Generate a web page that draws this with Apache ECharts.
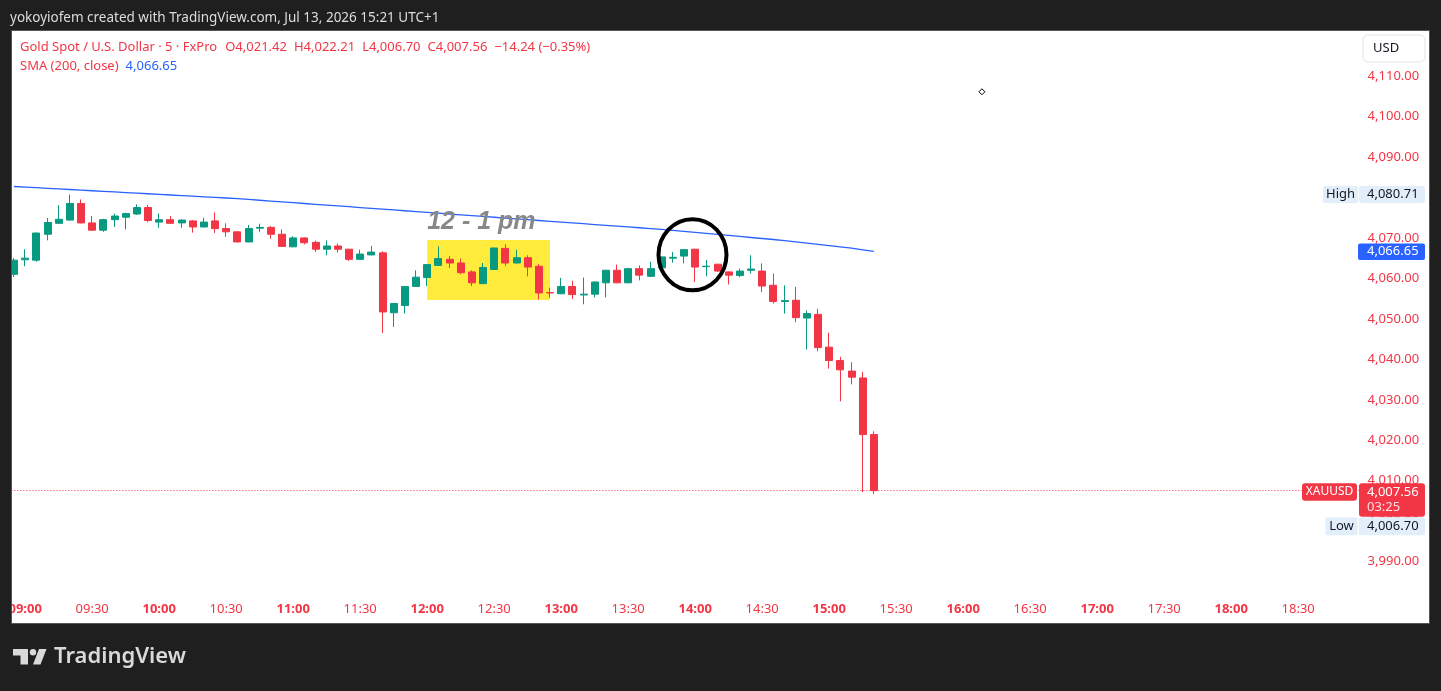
<!DOCTYPE html>
<html><head><meta charset="utf-8">
<script src="https://cdn.jsdelivr.net/npm/echarts@6/dist/echarts.min.js"></script>
<style>html,body{margin:0;padding:0;background:#1f1f1f;}#c{width:1441px;height:691px;}</style>
</head><body><div id="c"></div>
<script>
// ---- data (5-minute candles, XAUUSD, 08:55 .. 15:20) ----
const opens = [4061.0,4064.6,4064.5,4070.9,4073.6,4074.4,4078.5,4073.7,4071.9,4074.5,
4075.1,4075.9,4077.5,4073.9,4074.5,4073.7,4074.2,4072.7,4074.2,4072.3,
4071.5,4069.0,4072.4,4072.6,4070.9,4067.8,4070.0,4068.9,4067.2,4068.0,
4067.2,4064.7,4065.8,4066.3,4051.5,4053.3,4058.0,4060.2,4063.2,4064.7,
4063.8,4061.6,4058.7,4062.2,4067.4,4063.8,4065.1,4063.0,4056.5,4056.2,
4058.0,4055.9,4056.1,4058.9,4062.0,4058.9,4062.4,4060.5,4062.6,4065.0,
4065.5,4067.2,4062.9,4063.5,4061.6,4060.7,4062.0,4061.8,4058.3,4054.3,
4054.6,4050.2,4051.1,4043.0,4039.7,4037.1,4035.4,4021.42];
const closes = [4064.5,4065.0,4071.2,4073.8,4074.6,4078.5,4073.7,4071.9,4074.5,4075.4,
4076.0,4077.5,4074.3,4074.5,4073.6,4074.4,4072.7,4073.9,4072.3,4071.5,
4069.0,4072.3,4072.6,4070.9,4067.9,4070.0,4068.8,4067.2,4068.0,4067.2,
4064.7,4066.0,4066.5,4051.7,4053.8,4058.0,4060.3,4063.4,4064.9,4063.8,
4061.4,4058.9,4062.7,4067.5,4063.8,4065.1,4062.8,4056.4,4056.4,4058.0,
4056.0,4056.1,4059.1,4062.0,4058.9,4062.4,4060.8,4062.4,4065.3,4065.2,
4067.1,4062.8,4063.0,4061.8,4060.8,4061.8,4062.3,4058.1,4054.3,4054.5,
4050.3,4051.3,4042.9,4039.7,4037.4,4035.6,4021.4,4007.56];
const lows = [4060.3,4063.0,4064.1,4069.4,4073.5,4074.3,4073.6,4071.8,4071.5,4072.7,
4072.1,4075.7,4073.9,4072.5,4073.4,4072.5,4071.3,4072.6,4071.2,4070.3,
4068.9,4068.9,4071.5,4069.8,4067.8,4067.7,4068.4,4066.5,4065.7,4066.4,
4064.3,4064.6,4065.7,4046.5,4048.0,4051.3,4057.9,4058.1,4063.1,4062.6,
4061.0,4058.1,4058.6,4062.1,4063.1,4063.7,4060.5,4054.8,4055.2,4056.1,
4054.9,4053.6,4055.3,4055.3,4058.8,4058.8,4059.5,4060.4,4062.5,4063.9,
4063.7,4059.1,4060.5,4061.6,4058.5,4060.3,4061.2,4056.6,4053.8,4051.3,
4049.2,4042.4,4042.0,4037.7,4029.6,4033.8,4007.2,4006.70];
const highs = [4065.0,4067.2,4071.3,4074.9,4078.1,4080.71,4079.5,4075.4,4074.7,4076.0,
4076.2,4078.3,4078.1,4076.0,4075.4,4074.6,4074.4,4075.0,4076.3,4073.6,
4071.6,4073.2,4073.5,4072.9,4072.1,4070.4,4070.1,4069.3,4069.4,4068.6,
4067.3,4067.1,4068.0,4066.7,4053.9,4058.1,4062.0,4063.5,4067.9,4065.5,
4064.9,4062.0,4063.8,4067.6,4068.4,4067.1,4065.7,4063.5,4057.7,4060.1,
4059.4,4060.2,4059.2,4062.1,4063.4,4062.6,4063.2,4064.1,4065.4,4066.5,
4067.2,4067.3,4064.5,4063.6,4061.7,4062.4,4065.7,4063.7,4061.2,4058.3,
4057.9,4052.1,4052.5,4046.6,4040.6,4039.3,4036.9,4022.21];
const sma200 = [4082.70,4082.55,4082.40,4082.25,4082.10,4081.95,4081.80,4081.65,4081.50,4081.35,
4081.20,4081.05,4080.90,4080.75,4080.60,4080.45,4080.30,4080.15,4080.00,4079.85,
4079.70,4079.50,4079.30,4079.10,4078.90,4078.70,4078.50,4078.30,4078.10,4077.90,
4077.70,4077.50,4077.30,4077.10,4076.90,4076.70,4076.50,4076.30,4076.10,4075.90,
4075.70,4075.50,4075.30,4075.10,4074.90,4074.70,4074.50,4074.30,4074.10,4073.90,
4073.70,4073.50,4073.30,4073.10,4072.90,4072.70,4072.50,4072.30,4072.10,4071.85,
4071.60,4071.35,4071.10,4070.85,4070.60,4070.35,4070.10,4069.85,4069.60,4069.30,
4069.00,4068.70,4068.40,4068.10,4067.80,4067.45,4067.05,4066.65];
const lastPrice = 4007.56, dayHigh = 4080.71, dayLow = 4006.70, smaLast = 4066.65;
const highlightTop = 4069.45, highlightBottom = 4054.65;
const legendParts = ['Gold Spot / U.S. Dollar \u00b7 5 \u00b7 FxPro', 'O4,021.42', 'H4,022.21', 'L4,006.70', 'C4,007.56', '\u221214.24 (\u22120.35%)'];

// time categories 08:55 .. 18:55 every 5 minutes
const categories = [];
for (let m = 8*60+55; m <= 18*60+55; m += 5) {
  categories.push(String(Math.floor(m/60)).padStart(2,'0') + ':' + String(m%60).padStart(2,'0'));
}

const RED = '#f23645', GREEN = '#089981', BLUE = '#2962ff', F = '"Noto Sans", sans-serif';
const fmt = v => v.toLocaleString('en-US', {minimumFractionDigits:2, maximumFractionDigits:2});

const chart = echarts.init(document.getElementById('c'), null, {width:1441, height:691});
chart.setOption({
  animation: false,
  backgroundColor: '#1f1f1f',
  grid: {left: 8.42, top: 35.5, width: 121*11.1667, height: 566.7, containLabel: false},
  xAxis: {
    type: 'category', data: categories, boundaryGap: true,
    axisLine: {show: false}, axisTick: {show: false}, splitLine: {show: false},
    axisLabel: {
      interval: (i, v) => v.endsWith(':00') || v.endsWith(':30'),
      formatter: v => v.endsWith(':00') ? '{b|' + v + '}' : v,
      color: RED, fontSize: 13, fontFamily: F, margin: 7, verticalAlign: 'middle',
      rich: {b: {fontWeight: 'bold', color: RED, fontSize: 13, fontFamily: F}}
    }
  },
  yAxis: {
    type: 'value', position: 'right', min: 3980, max: 4120, interval: 10, scale: true,
    axisLine: {show: false}, axisTick: {show: false}, splitLine: {show: false},
    axisLabel: {color: RED, fontSize: 13, fontFamily: F, margin: 8, formatter: v => fmt(v),
      showMinLabel: false, showMaxLabel: false}
  },
  series: [
    {
      type: 'candlestick', barWidth: 7.5,
      data: opens.map((o, i) => [o, closes[i], lows[i], highs[i]]),
      itemStyle: {color: GREEN, color0: RED, borderColor: GREEN, borderColor0: RED, borderWidth: 1},
      markArea: {silent: true, itemStyle: {color: '#ffeb3b', opacity: 1}, label: {show: false},
        data: [[{xAxis: '12:00', yAxis: highlightTop}, {xAxis: '12:55', yAxis: highlightBottom}]]},
      markLine: {silent: true, symbol: ['none','none'], label: {show: false},
        lineStyle: {color: RED, type: [1, 2], width: 1}, data: [{yAxis: lastPrice}]}
    },
    {
      type: 'line', data: sma200, symbol: 'none', z: 3,
      lineStyle: {color: BLUE, width: 1.3}
    }
  ]
});

const xOf = i => chart.convertToPixel({xAxisIndex: 0}, i);
const yOf = v => chart.convertToPixel({yAxisIndex: 0}, v);

function txt(x, y, t, size, color, o = {}) {
  return {type: 'text', x, y, z: o.z || 60, silent: true,
    style: {text: t, fill: color, fontSize: size, fontFamily: o.family || F, fontWeight: o.w || 'normal',
      fontStyle: o.st || 'normal', align: o.align || 'left', textAlign: o.align || 'left',
      verticalAlign: 'middle', textVerticalAlign: 'middle'}};
}
function box(x, y, w, h, fill, o = {}) {
  return {type: 'rect', z: o.z || 55, silent: true, shape: {x, y, width: w, height: h, r: o.r == null ? 3 : o.r},
    style: {fill, stroke: o.stroke || null, lineWidth: o.lw || 0}};
}

// measure legend parts to lay them out in sequence
const mctx = document.createElement('canvas').getContext('2d');
const LEG = 13;
mctx.font = LEG + 'px "Noto Sans"';
const legendEls = [];
let lx = 20;
legendParts.forEach((p, i) => {
  legendEls.push(txt(lx, 47.5, p, LEG, RED));
  lx += mctx.measureText(p).width + (i === 0 ? 8 : 7);
});

const yH = yOf(dayHigh), yS = yOf(smaLast), yL = yOf(lastPrice);
const cx = xOf(60) + 0.76 * (xOf(61) - xOf(60)), cy = yOf(4065.85);
const dx = xOf(86) + 0.68 * (xOf(87) - xOf(86)), dy = yOf(4106.1);
const smaLabel = 'SMA (200, close)';
const smaW = mctx.measureText(smaLabel).width;
const g = [
  // white chart panel and frame
  {type: 'rect', z: -10, silent: true, shape: {x: 11.5, y: 30.5, width: 1418, height: 593},
    style: {fill: '#ffffff', stroke: '#555555', lineWidth: 1}},
  {type: 'rect', z: 50, silent: true, shape: {x: 0, y: 30, width: 11.5, height: 594}, style: {fill: '#1f1f1f'}},
  {type: 'line', z: 51, silent: true, shape: {x1: 11.5, y1: 30.5, x2: 11.5, y2: 623.5}, style: {stroke: '#555555', lineWidth: 1}},
  // header
  txt(10, 18, 'yokoyiofem created with TradingView.com, Jul 13, 2026 15:21 UTC+1', 13.5, '#dcdcdc'),
  // legend
  ...legendEls,
  txt(20, 66.5, smaLabel, LEG, RED),
  txt(20 + smaW + 7, 66.5, fmt(smaLast), LEG, BLUE),
  // annotations
  txt(xOf(37), yOf(4073.9), '12 - 1 pm', 25, '#888888', {w: 'bold', st: 'italic', family: '"Liberation Sans", Arial, sans-serif'}),
  {type: 'ellipse', z: 40, silent: true, shape: {cx, cy, rx: 34, ry: 35.5},
    style: {fill: 'rgba(0,0,0,0)', stroke: '#000000', lineWidth: 4}},
  {type: 'polygon', z: 40, silent: true, shape: {points: [[dx, dy-3], [dx+3, dy], [dx, dy+3], [dx-3, dy]]},
    style: {fill: '#ffffff', stroke: '#000000', lineWidth: 1}},
  // price scale widgets
  box(1363, 35, 62, 27, '#ffffff', {r: 5, stroke: '#e0e3eb', lw: 1}),
  txt(1373, 48.5, 'USD', 13, '#131722'),
  box(1323, yH - 8.5, 35, 17, '#e3eefb', {r: 2}),
  txt(1340.5, yH, 'High', 13, '#131722', {align: 'center'}),
  box(1359, yH - 8.5, 66, 17, '#e3eefb', {r: 2}),
  txt(1367, yH, fmt(dayHigh), 13, '#131722'),
  box(1358, yS - 8, 67, 16.5, BLUE, {r: 2}),
  txt(1367, yS, fmt(smaLast), 13, '#ffffff'),
  box(1302, yL - 7.3, 55, 17.4, RED, {r: 3}),
  txt(1329.5, yL + 1.2, 'XAUUSD', 12, '#ffffff', {align: 'center'}),
  box(1359, yL - 7.3, 66, 33.4, RED, {r: 3}),
  txt(1367, yL + 1.2, fmt(lastPrice), 13, '#ffffff'),
  txt(1367, yL + 16.2, '03:25', 13, '#ffe0e3'),
  box(1325.5, yL + 26.6, 32, 18, '#e3eefb', {r: 2}),
  txt(1341.5, yL + 35.6, 'Low', 13, '#131722', {align: 'center'}),
  box(1359, yL + 26.6, 66, 18, '#e3eefb', {r: 2}),
  txt(1367, yL + 35.6, fmt(dayLow), 13, '#131722'),
  // TradingView logo
  {type: 'rect', z: 60, silent: true, shape: {x: 13, y: 649, width: 15, height: 6.5}, style: {fill: '#d9d9d9'}},
  {type: 'rect', z: 60, silent: true, shape: {x: 20.5, y: 649, width: 7.5, height: 15.5}, style: {fill: '#d9d9d9'}},
  {type: 'circle', z: 60, silent: true, shape: {cx: 33, cy: 652.2, r: 3.2}, style: {fill: '#d9d9d9'}},
  {type: 'polygon', z: 60, silent: true, shape: {points: [[39, 649], [46.5, 649], [40.5, 664.5], [33, 664.5]]}, style: {fill: '#d9d9d9'}},
  txt(54, 657, 'TradingView', 22, '#d9d9d9', {w: 600})
];
chart.setOption({graphic: {elements: g}});
</script>
</body></html>
